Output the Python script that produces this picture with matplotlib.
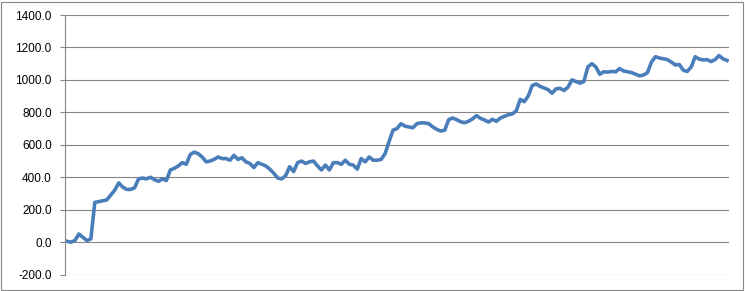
import numpy as np
import matplotlib
matplotlib.use('Agg')
import matplotlib.pyplot as plt
from matplotlib.patches import Rectangle

# running total (one value per ~4 px)
values = [
    5, 0, 10, 50, 30, 10, 20, 245, 250, 255,
    260, 290, 320, 365, 340, 325, 325, 335, 390, 395,
    390, 400, 385, 375, 390, 380, 445, 455, 470, 490,
    480, 540, 555, 545, 525, 495, 500, 510, 525, 515,
    515, 505, 535, 510, 520, 495, 485, 460, 490, 480,
    470, 450, 425, 395, 390, 410, 465, 435, 490, 500,
    485, 495, 500, 470, 445, 475, 445, 490, 490, 480,
    505, 480, 475, 450, 515, 495, 525, 505, 505, 510,
    545, 620, 690, 700, 730, 715, 710, 705, 730, 735,
    735, 730, 710, 695, 685, 690, 755, 765, 755, 742,
    736, 745, 760, 780, 763, 753, 740, 757, 745, 765,
    775, 785, 790, 810, 880, 866, 900, 965, 975, 960,
    950, 940, 918, 945, 948, 935, 955, 1000, 990, 980,
    990, 1080, 1100, 1080, 1035, 1050, 1048, 1052, 1050, 1070,
    1055, 1050, 1045, 1035, 1025, 1030, 1045, 1110, 1143, 1135,
    1130, 1125, 1110, 1092, 1095, 1060, 1052, 1080, 1143, 1128,
    1123, 1125, 1113, 1125, 1150, 1130, 1120,
]
yticks = [-200, 0, 200, 400, 600, 800, 1000, 1200, 1400]

W, H = 745, 291
fig = plt.figure(figsize=(W / 100, H / 100), dpi=100)
ax = fig.add_axes([65 / W, 1 - 274.6 / H, (729 - 65) / W, (274.6 - 15) / H])

x = np.arange(len(values))
ax.plot(x, values, color='#4A7EBB', linewidth=2.6, solid_joinstyle='round')

ax.set_xlim(-0.5, len(values) - 0.5)
ax.set_ylim(-200, 1400)
ax.set_yticks(yticks)
ax.set_yticklabels(['%.1f' % t for t in yticks], fontsize=8.5, family='Liberation Sans')
ax.set_xticks([])
ax.grid(axis='y', color='#868686', linewidth=0.8)
ax.set_axisbelow(True)

for s in ['top', 'right', 'bottom']:
    ax.spines[s].set_visible(False)
ax.spines['left'].set_color('#868686')
ax.spines['left'].set_linewidth(0.8)
ax.tick_params(axis='y', length=3.6, width=0.8, color='#868686', pad=6)

# chart border
fig.patches.append(Rectangle((1 / W, 1 / H), 742 / W, 288 / H, transform=fig.transFigure,
                             fill=False, edgecolor='#868686', linewidth=0.8))

fig.savefig('out.png', dpi=100)
